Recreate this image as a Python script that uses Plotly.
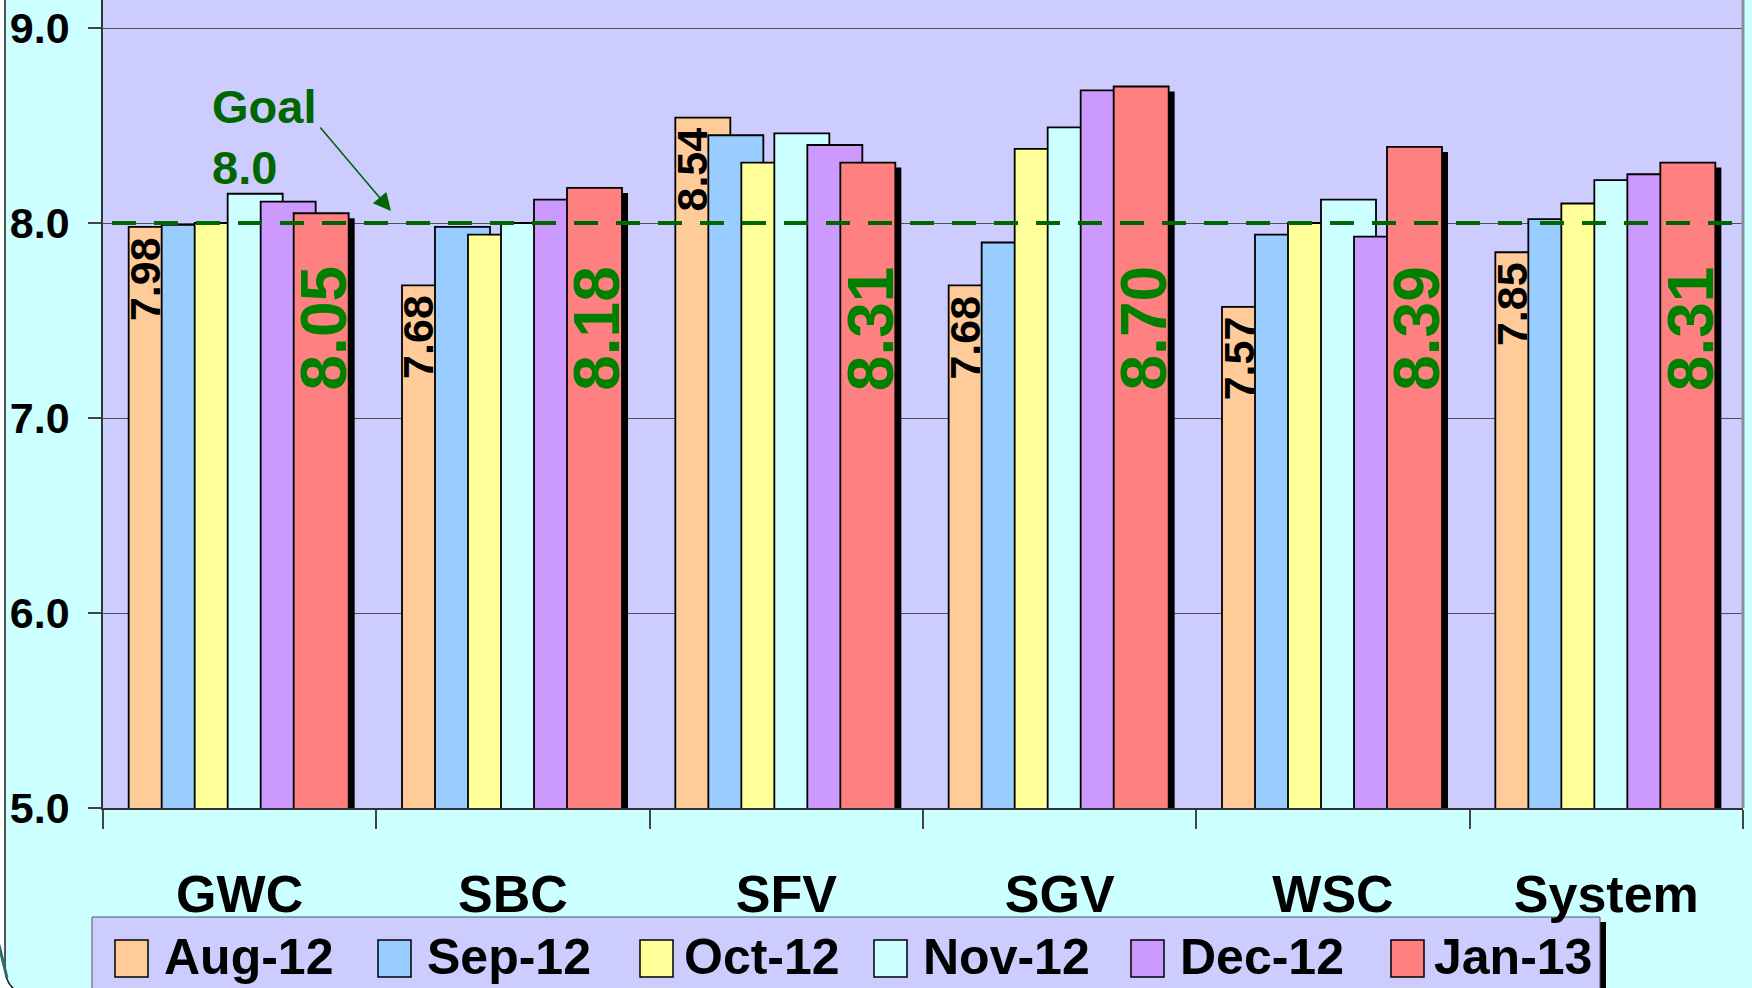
import plotly.graph_objects as go

# ---------------- data ----------------
categories = ["GWC", "SBC", "SFV", "SGV", "WSC", "System"]
months = ["Aug-12", "Sep-12", "Oct-12", "Nov-12", "Dec-12", "Jan-13"]
aug_12 = [7.98, 7.68, 8.54, 7.68, 7.57, 7.85]
sep_12 = [7.99, 7.98, 8.45, 7.90, 7.94, 8.02]
oct_12 = [8.00, 7.94, 8.31, 8.38, 8.00, 8.10]
nov_12 = [8.15, 8.00, 8.46, 8.49, 8.12, 8.22]
dec_12 = [8.11, 8.12, 8.40, 8.68, 7.93, 8.25]
jan_13 = [8.05, 8.18, 8.31, 8.70, 8.39, 8.31]
goal = 8.0
y_ticks = [5.0, 6.0, 7.0, 8.0, 9.0]

series = [aug_12, sep_12, oct_12, nov_12, dec_12, jan_13]
colors = ["#FFCC99", "#99CCFF", "#FFFF99", "#CCFFFF", "#CC99FF", "#FF8080"]

# ---------------- layout geometry ----------------
W, H = 1752, 988
PX_L, PX_R, PX_T, PX_B = 103, 1743, 0, 808
GROUP_PX = (PX_R - PX_L) / len(categories)
Y_MAX = 9.0 + 28 / 195.0
UNIT_PX = (PX_B - PX_T) / (Y_MAX - 5.0)


def xp(px):
    return (px - PX_L) / (PX_R - PX_L)


def yp(py):
    return (PX_B - py) / (PX_B - PX_T)


BAR_W = 55 / GROUP_PX
STEP = 33 / GROUP_PX
OFF0 = -111 / GROUP_PX

FONT = "Liberation Sans, Arial, sans-serif"
GREEN_DARK = "#006600"
GREEN = "#008000"

fig = go.Figure()

# shadow behind last series
shadow_drop = 5 / UNIT_PX
fig.add_trace(go.Bar(
    x=categories, y=[v - shadow_drop for v in jan_13],
    offset=OFF0 + 5 * STEP + 6 / GROUP_PX, width=BAR_W,
    marker=dict(color="black", line=dict(width=0)),
    hoverinfo="skip", showlegend=False))

for i, (name, vals, col) in enumerate(zip(months, series, colors)):
    fig.add_trace(go.Bar(
        x=categories, y=vals, name=name,
        offset=OFF0 + i * STEP, width=BAR_W,
        marker=dict(color=col, line=dict(color="black", width=1.8)),
        showlegend=False))

annotations = []
# Aug labels (black, inside visible strip of first bar, near top)
for i, v in enumerate(aug_12):
    annotations.append(dict(
        x=i + OFF0 + 16.5 / GROUP_PX, y=v, xref="x", yref="y",
        yshift=-52, text=f"{v:.2f}", showarrow=False, textangle=-90,
        xanchor="center", yanchor="middle",
        font=dict(family=FONT, size=43, color="black", weight="bold")))
# Jan labels (green, inside last bar)
for i, v in enumerate(jan_13):
    annotations.append(dict(
        x=i + OFF0 + 5 * STEP + 30.5 / GROUP_PX, y=7.46, xref="x", yref="y",
        text=f"{v:.2f}", showarrow=False, textangle=-90,
        xanchor="center", yanchor="middle",
        font=dict(family=FONT, size=64, color=GREEN, weight="bold")))

# Goal text and arrow
annotations.append(dict(
    x=xp(210), y=yp(78), xref="paper", yref="paper",
    text="Goal<br>8.0", showarrow=False, align="left",
    xanchor="left", yanchor="top",
    font=dict(family=FONT, size=47, color=GREEN_DARK, weight="bold")))
annotations.append(dict(
    x=xp(391), y=yp(211), xref="paper", yref="paper",
    ax=319 - 391, ay=126 - 211, axref="pixel", ayref="pixel",
    text="", showarrow=True, arrowhead=2, arrowsize=2.2, arrowwidth=1.6,
    arrowcolor=GREEN_DARK))

shapes = []
# goal dashed line
shapes.append(dict(type="line", xref="paper", yref="y", x0=xp(112), x1=1.0,
                   y0=goal, y1=goal, layer="above",
                   line=dict(color=GREEN_DARK, width=4, dash="24px,18px")))
# right border of plot area
shapes.append(dict(type="line", xref="paper", yref="paper", x0=1.0, x1=1.0,
                   y0=0, y1=1, layer="above",
                   line=dict(color="#8C8C9C", width=3)))

# left white margin with rounded bottom-left corner and border line
shapes.append(dict(type="path", xref="paper", yref="paper", layer="above",
                   path=(f"M {xp(-5)},{yp(-5)} L {xp(5)},{yp(-5)} L {xp(5)},{yp(966)} "
                         f"Q {xp(5)},{yp(988)} {xp(22)},{yp(993)} L {xp(-5)},{yp(993)} Z"),
                   fillcolor="white", line=dict(width=0)))
shapes.append(dict(type="path", xref="paper", yref="paper", layer="above",
                   path=(f"M {xp(5)},{yp(-5)} L {xp(5)},{yp(966)} "
                         f"Q {xp(5)},{yp(988)} {xp(22)},{yp(993)}"),
                   line=dict(color="#202020", width=1.5)))
shapes.append(dict(type="line", xref="paper", yref="paper", layer="above",
                   x0=xp(-1), y0=yp(945), x1=xp(7), y1=yp(978),
                   line=dict(color="#2F6B6B", width=3)))

# legend box (built from the month names / colours)
LEG_L, LEG_R, LEG_T = 92, 1600, 917
shapes.append(dict(type="rect", xref="paper", yref="paper", layer="below",
                   x0=xp(LEG_R), x1=xp(LEG_R + 6), y0=yp(922), y1=yp(1000),
                   fillcolor="black", line=dict(width=0)))
shapes.append(dict(type="rect", xref="paper", yref="paper", layer="below",
                   x0=xp(LEG_L), x1=xp(LEG_R), y0=yp(LEG_T), y1=yp(1000),
                   fillcolor="#CCCCFF", line=dict(color="#555555", width=1)))
leg_swatch_x = [115, 378, 640, 874, 1131, 1391]
leg_text_x = [162, 425, 682, 921, 1178, 1432]
for name, col, sx, tx in zip(months, colors, leg_swatch_x, leg_text_x):
    shapes.append(dict(type="rect", xref="paper", yref="paper", layer="below",
                       x0=xp(sx), x1=xp(sx + 33), y0=yp(940), y1=yp(977),
                       fillcolor=col, line=dict(color="black", width=1.5)))
    annotations.append(dict(
        x=xp(tx), y=yp(957), xref="paper", yref="paper",
        text=name, showarrow=False, xanchor="left", yanchor="middle",
        font=dict(family=FONT, size=50, color="black", weight="bold")))

fig.update_layout(
    width=W, height=H,
    margin=dict(l=PX_L, r=W - PX_R, t=PX_T, b=H - PX_B, pad=0),
    paper_bgcolor="#CCFFFF", plot_bgcolor="#CCCCFF",
    barmode="overlay", showlegend=False,
    shapes=shapes, annotations=annotations,
    xaxis=dict(type="category", range=[-0.5, len(categories) - 0.5],
               tickson="boundaries", ticks="outside", ticklen=19,
               tickwidth=1.5, tickcolor="#444444",
               showline=True, linecolor="#333333", linewidth=1.5,
               showgrid=False, ticklabelstandoff=40,
               tickfont=dict(family=FONT, size=52, color="black", weight="bold")),
    yaxis=dict(range=[5.0, Y_MAX], tickvals=y_ticks,
               ticktext=[f"{t:.1f}" for t in y_ticks],
               ticks="outside", ticklen=13, tickwidth=1.5, tickcolor="#444444",
               showline=True, linecolor="#333333", linewidth=1.5,
               showgrid=True, gridcolor="#505050", gridwidth=1.2,
               zeroline=False, ticklabelstandoff=10,
               tickfont=dict(family=FONT, size=43, color="black", weight="bold")),
)

fig.write_html(
    "out.html",
    config={"displayModeBar": False},
    post_script="document.body.style.margin='0';document.body.style.overflow='hidden';",
)
